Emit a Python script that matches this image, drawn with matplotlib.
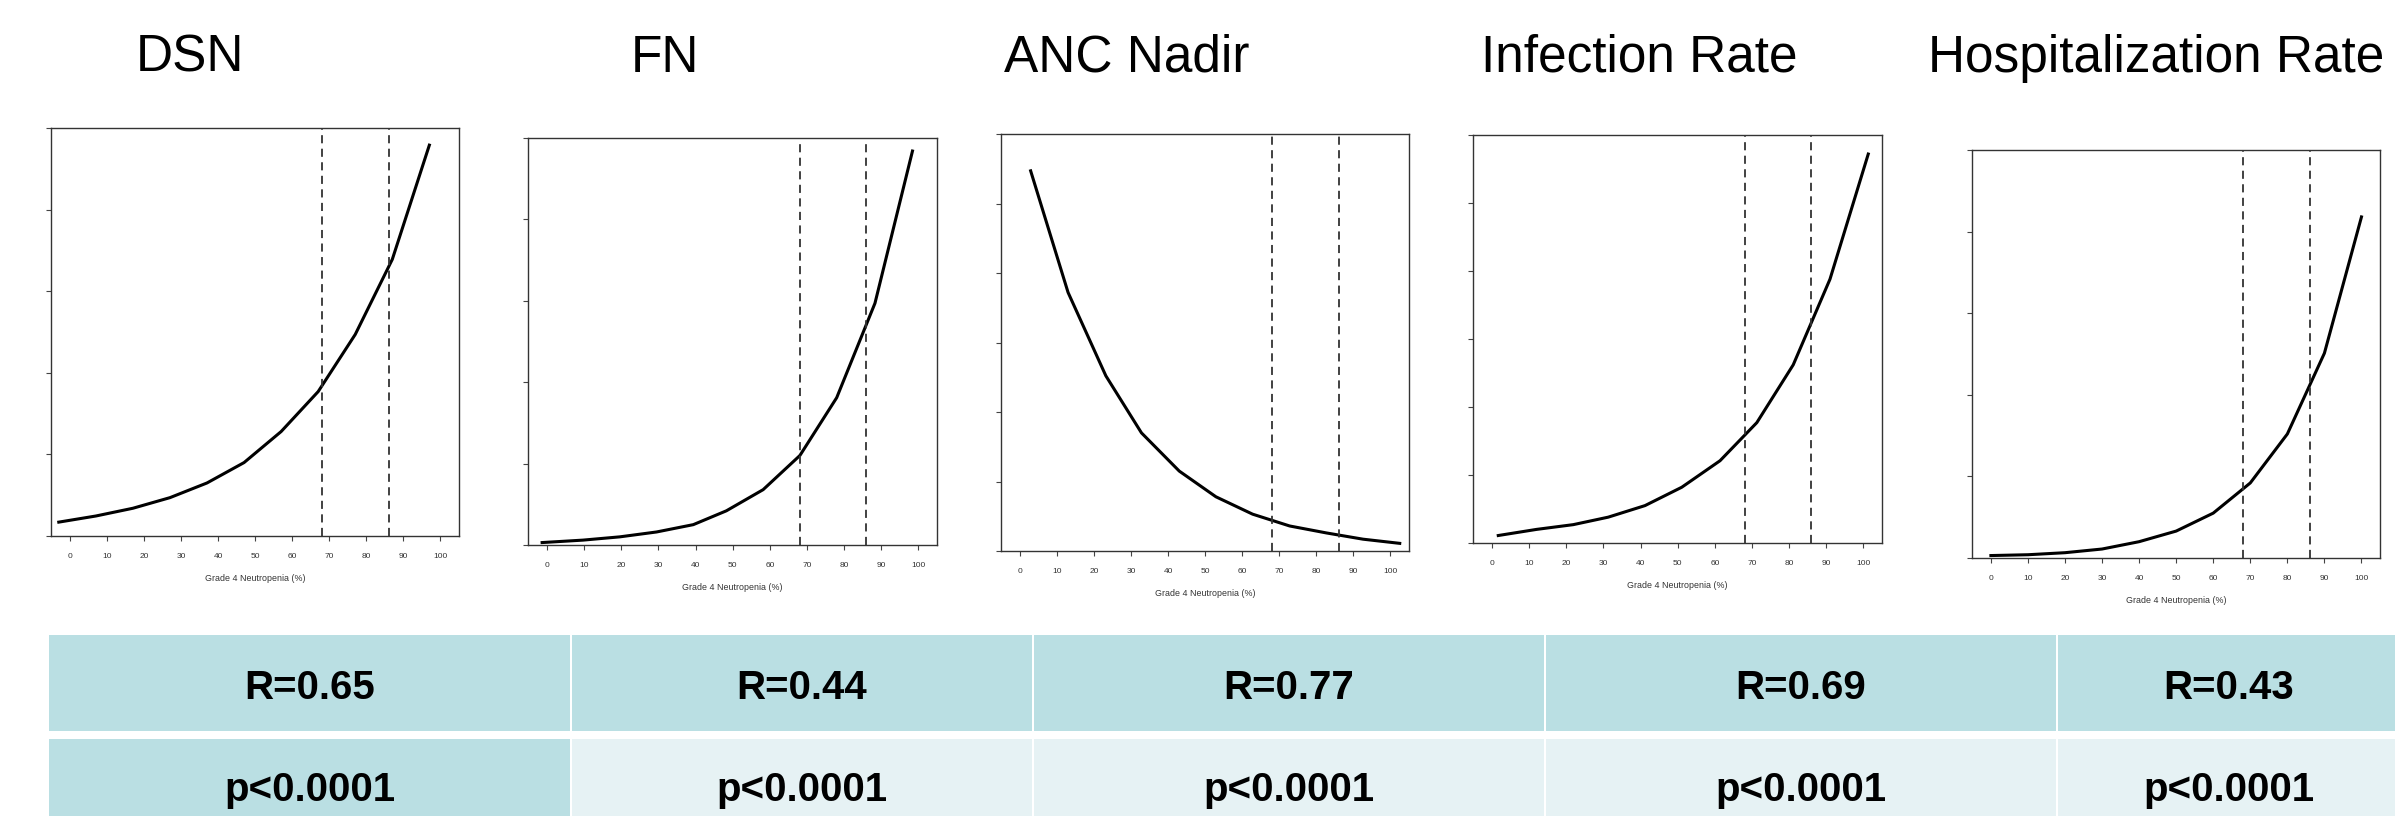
import matplotlib
matplotlib.use("Agg")
import matplotlib.pyplot as plt
from matplotlib.patches import Rectangle

plt.rcParams["font.family"] = ["Liberation Sans", "DejaVu Sans"]

W, H = 2395, 816

# panel titles and stats
titles = ["DSN", "FN", "ANC Nadir", "Infection Rate", "Hospitalization Rate"]
r_values = ["R=0.65", "R=0.44", "R=0.77", "R=0.69", "R=0.43"]
p_values = ["p<0.0001", "p<0.0001", "p<0.0001", "p<0.0001", "p<0.0001"]

# curves (x = Grade 4 Neutropenia %, y in arbitrary units)
dsn_x = [-3, 7, 17, 27, 37, 47, 57, 67, 77, 87, 97]
dsn_y = [0.17, 0.245, 0.34, 0.47, 0.65, 0.90, 1.28, 1.77, 2.47, 3.39, 4.79]

fn_x = [-1.3, 9.7, 19.6, 29.5, 39.4, 48.3, 58.2, 68.1, 78, 88.3, 98.4]
fn_y = [0.03, 0.06, 0.10, 0.16, 0.25, 0.42, 0.68, 1.10, 1.81, 2.97, 4.84]

anc_x = [2.9, 13, 23.2, 32.8, 43, 52.9, 62.8, 72.8, 82.7, 92.6, 102.5]
anc_y = [5.47, 3.72, 2.52, 1.70, 1.15, 0.78, 0.53, 0.36, 0.26, 0.17, 0.11]

inf_x = [1.7, 12, 21.9, 31.3, 41.2, 51.1, 61.4, 71.3, 81.1, 91, 101.3]
inf_y = [0.11, 0.20, 0.27, 0.38, 0.55, 0.82, 1.21, 1.77, 2.62, 3.88, 5.72]

hosp_x = [0, 10, 20, 30, 40, 50, 60, 70, 80, 90, 100]
hosp_y = [0.03, 0.04, 0.065, 0.11, 0.20, 0.33, 0.55, 0.92, 1.52, 2.51, 4.18]

cutoffs = [68, 86]
y_max = [5, 5, 6, 6, 5]

curves = [(dsn_x, dsn_y), (fn_x, fn_y), (anc_x, anc_y), (inf_x, inf_y), (hosp_x, hosp_y)]

# axes boxes in pixels: left, right, top, bottom
boxes = [(51, 459, 128, 536), (528, 937, 138, 545), (1001, 1409, 134, 551),
         (1473, 1882, 135, 543), (1972, 2380, 150, 558)]
title_x = [136, 631, 1004, 1481, 1928]

fig = plt.figure(figsize=(W / 100, H / 100), dpi=100)

# table background layer
bg = fig.add_axes([0, 0, 1, 1], zorder=0)
bg.set_xlim(0, W)
bg.set_ylim(H, 0)
bg.axis("off")

col_edges = [48, 571, 1033, 1545, 2057, 2400]
dark = "#badfe3"
light = "#e6f2f4"
for i in range(5):
    x0, x1 = col_edges[i] + 1, col_edges[i + 1] - 1
    bg.add_patch(Rectangle((x0, 635), x1 - x0, 96, color=dark, lw=0))
    bg.add_patch(Rectangle((x0, 739), x1 - x0, 96, color=dark if i == 0 else light, lw=0))
    xc = (col_edges[i] + col_edges[i + 1]) / 2
    bg.text(xc, 699, r_values[i], ha="center", va="baseline", fontsize=29, fontweight="bold")
    bg.text(xc, 801, p_values[i], ha="center", va="baseline", fontsize=29, fontweight="bold")

for i in range(5):
    bg.text(title_x[i], 72, titles[i], ha="left", va="baseline", fontsize=37)

for i, ((cx, cy), (l, r, t, b)) in enumerate(zip(curves, boxes)):
    ax = fig.add_axes([l / W, 1 - b / H, (r - l) / W, (b - t) / H], zorder=1)
    ax.patch.set_alpha(0)
    ax.plot(cx, cy, color="black", lw=2.2)
    for c in cutoffs:
        ax.axvline(c, color="#333333", lw=1.3, dashes=(4.5, 3))
    ax.set_xlim(-5.1, 105)
    ax.set_ylim(0, y_max[i])
    ax.set_xticks(range(0, 101, 10))
    ax.set_yticks(range(0, y_max[i] + 1))
    ax.set_yticklabels([])
    ax.tick_params(direction="out", length=3.6, width=0.8, color="#444444",
                   labelsize=6, labelcolor="#333333", pad=8.5)
    for s in ax.spines.values():
        s.set_color("#333333")
        s.set_linewidth(1.0)
    ax.set_xlabel("Grade 4 Neutropenia (%)", fontsize=6.4, color="#333333", labelpad=10.5)

fig.savefig("out.png", dpi=100)
